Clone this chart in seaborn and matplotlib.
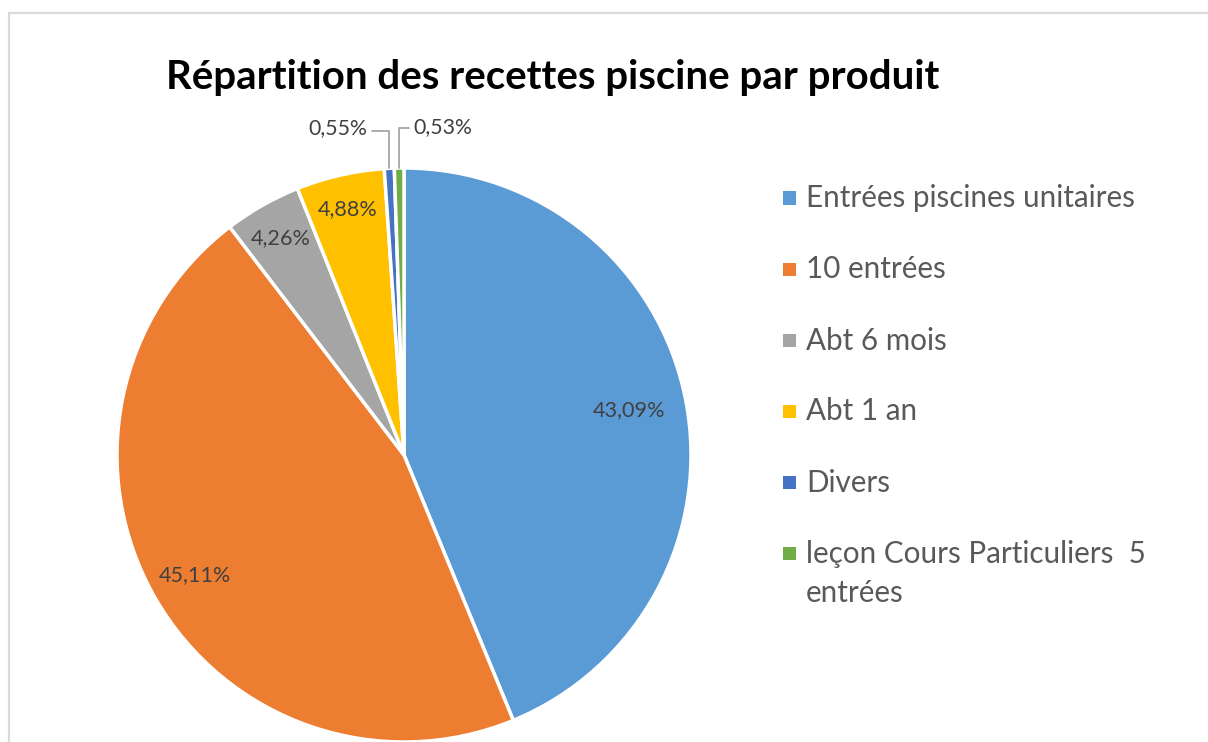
import numpy as np
import matplotlib
matplotlib.use('Agg')
import matplotlib.pyplot as plt
from matplotlib.patches import Rectangle
from matplotlib.lines import Line2D
import seaborn as sns

# ─── Data ─────────────────────────────────────────────────────────────────────
produits = ['Entrées piscines unitaires', '10 entrées', 'Abt 6 mois',
            'Abt 1 an', 'Divers', 'leçon Cours Particuliers  5\nentrées']
parts    = [43.09, 45.11, 4.26, 4.88, 0.55, 0.53]
etiquettes = ['43,09%', '45,11%', '4,26%', '4,88%', '0,55%', '0,53%']
couleurs = ['#5B9BD5', '#ED7D31', '#A5A5A5', '#FFC000', '#4472C4', '#70AD47']

TITRE = 'Répartition des recettes piscine par produit'

# ─── Style ────────────────────────────────────────────────────────────────────
sns.set_theme(style='white')
plt.rcParams['font.family'] = ['Lato', 'DejaVu Sans']

W, H = 1208, 742
fig = plt.figure(figsize=(W / 100, H / 100), dpi=100)

# chart frame (top + left edges visible)
fig.add_artist(Line2D([8.5 / W, 8.5 / W], [0, 1 - 12.5 / H], color='#D9D9D9',
                      lw=1.6, transform=fig.transFigure))
fig.add_artist(Line2D([8.5 / W, 1], [1 - 12.5 / H, 1 - 12.5 / H], color='#D9D9D9',
                      lw=1.6, transform=fig.transFigure))

# pie axes: centre (404, 455) px, radius 287 px
cx, cy, r = 404, 455, 287
ax = fig.add_axes([(cx - r) / W, (H - cy - r) / H, 2 * r / W, 2 * r / H])
wedges, _ = ax.pie(parts, colors=couleurs, startangle=90, counterclock=False,
                   radius=1, wedgeprops=dict(edgecolor='white', linewidth=2.5))
ax.set_xlim(-1, 1); ax.set_ylim(-1, 1)
ax.set_aspect('equal'); ax.axis('off')

# inside labels
radii_in = [0.80, 0.84, 0.87, 0.88]
for w, lab, rr in zip(wedges[:4], etiquettes[:4], radii_in):
    a = np.deg2rad((w.theta1 + w.theta2) / 2)
    ax.text(rr * np.cos(a), rr * np.sin(a), lab, ha='center', va='center',
            fontsize=15.6, color='#404040')

# small slices: labels outside with leader lines
outside = [(101.4, 1.163, (1, 0.35)), (83.2, 1.152, (0, 0.45))]
for w, lab, (ang, rr, rel) in zip(wedges[4:], etiquettes[4:], outside):
    a = np.deg2rad((w.theta1 + w.theta2) / 2)
    t = np.deg2rad(ang)
    ax.annotate(lab, xy=(np.cos(a), np.sin(a)),
                xytext=(rr * np.cos(t), rr * np.sin(t)),
                ha='center', va='center', fontsize=15.3, color='#404040',
                annotation_clip=False,
                arrowprops=dict(arrowstyle='-', color='#A6A6A6', lw=1.3,
                                shrinkA=1, shrinkB=0, relpos=rel,
                                connectionstyle='angle,angleA=0,angleB=90,rad=0'))

# title
fig.text(553 / W, 1 - 78 / H, TITRE, ha='center', va='center',
         fontsize=28.9, fontweight='bold', color='black')

# legend (drawn by hand; wrapped entry keeps its square on the first line)
y0, step, sq, line_h = 198, 71, 13, 39
for i, (lab, col) in enumerate(zip(produits, couleurs)):
    yc = y0 + i * step
    fig.add_artist(Rectangle((783 / W, 1 - (yc + sq / 2) / H), sq / W, sq / H,
                             facecolor=col, edgecolor='none',
                             transform=fig.transFigure))
    for k, ligne in enumerate(lab.split('\n')):
        fig.text(806 / W, 1 - (yc + 9.5 + k * line_h) / H, ligne,
                 ha='left', va='baseline', fontsize=21.3, color='#595959')

fig.savefig('out.png', dpi=100)
